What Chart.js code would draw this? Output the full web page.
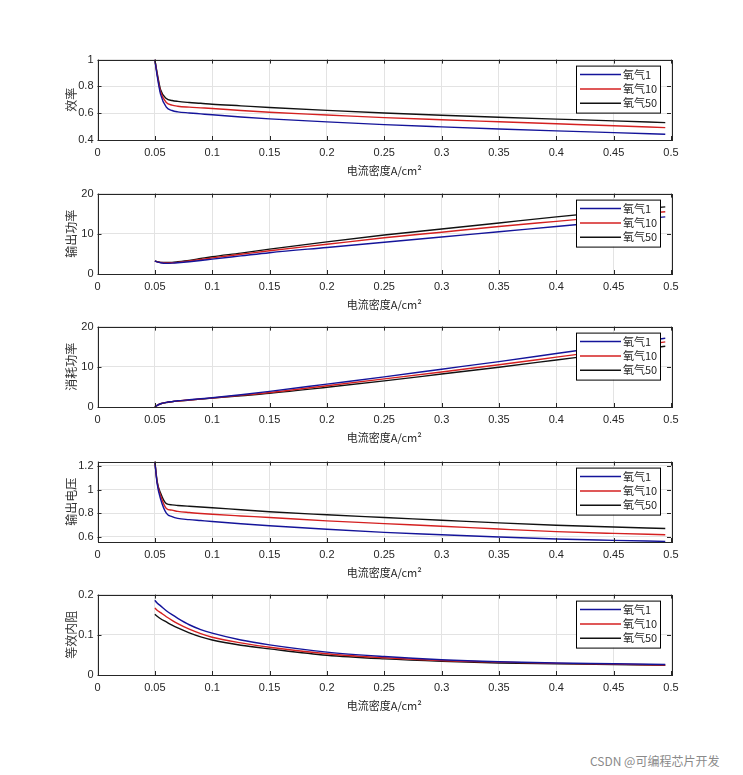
<!DOCTYPE html>
<html><head><meta charset="utf-8">
<script src="https://cdn.jsdelivr.net/npm/chart.js@4.4.0/dist/chart.umd.min.js"></script>
<style>
html,body{margin:0;padding:0;background:#fff;width:743px;height:775px;overflow:hidden;}
.pane{position:absolute;left:0;width:743px;height:128px;}
#foot{position:absolute;left:590px;top:752px;font:12px "Noto Sans CJK SC",sans-serif;color:#8a8a8a;}
</style></head><body>
<div class="pane" style="top:49px"><canvas id="c1"></canvas></div>
<div class="pane" style="top:183px"><canvas id="c2"></canvas></div>
<div class="pane" style="top:316px"><canvas id="c3"></canvas></div>
<div class="pane" style="top:451px"><canvas id="c4"></canvas></div>
<div class="pane" style="top:584px"><canvas id="c5"></canvas></div>
<div id="foot">CSDN @可编程芯片开发</div>
<script>
// x values: current density A/cm^2
const xVals = [0.05,0.052,0.055,0.06,0.065,0.07,0.08,0.09,0.1,0.125,0.15,0.2,0.25,0.3,0.35,0.4,0.45,0.495];
const seriesNames = ['氧气1','氧气10','氧气50'];
const xTitle = '电流密度A/cm²';

// Panel 1: 效率
const eff1  = [1.0,0.88,0.74,0.645,0.62,0.61,0.602,0.595,0.588,0.572,0.558,0.535,0.515,0.498,0.482,0.468,0.455,0.443];
const eff10 = [1.0,0.89,0.76,0.68,0.66,0.652,0.645,0.64,0.635,0.62,0.607,0.587,0.567,0.551,0.536,0.521,0.506,0.492];
const eff50 = [1.0,0.90,0.775,0.71,0.695,0.688,0.68,0.674,0.667,0.655,0.643,0.621,0.601,0.585,0.57,0.556,0.543,0.53];

// Panel 2: 输出功率
const pout1  = [3.2,3.0,2.8,2.65,2.7,2.8,3.05,3.35,3.7,4.5,5.3,6.6,7.9,9.2,10.5,11.8,13.1,14.2];
const pout10 = [3.2,3.0,2.85,2.75,2.8,2.9,3.25,3.6,4.0,4.9,5.8,7.4,9.0,10.4,11.8,13.1,14.4,15.5];
const pout50 = [3.25,3.05,2.9,2.85,2.9,3.05,3.4,3.85,4.3,5.2,6.2,8.0,9.7,11.2,12.7,14.2,15.6,16.7];

// Panel 3: 消耗功率
const pcon1  = [0,0.4,0.8,1.15,1.35,1.55,1.8,2.05,2.3,3.05,3.9,5.7,7.5,9.4,11.3,13.3,15.3,17.1];
const pcon10 = [0,0.4,0.8,1.15,1.35,1.5,1.75,2.0,2.25,2.9,3.6,5.3,7.0,8.7,10.5,12.4,14.3,16.2];
const pcon50 = [0,0.4,0.8,1.1,1.3,1.45,1.7,1.95,2.2,2.8,3.4,4.9,6.5,8.2,9.9,11.7,13.5,15.1];

// Panel 4: 输出电压
const volt1  = [1.237,1.05,0.92,0.8,0.77,0.755,0.745,0.737,0.729,0.71,0.693,0.663,0.637,0.617,0.597,0.58,0.569,0.56];
const volt10 = [1.237,1.06,0.95,0.84,0.825,0.815,0.805,0.797,0.79,0.776,0.763,0.734,0.711,0.689,0.665,0.643,0.628,0.617];
const volt50 = [1.237,1.07,0.97,0.88,0.87,0.865,0.858,0.852,0.846,0.828,0.811,0.786,0.763,0.74,0.717,0.697,0.682,0.669];

// Panel 5: 等效内阻
const res1  = [0.186,0.179,0.172,0.160,0.150,0.141,0.125,0.113,0.104,0.087,0.075,0.057,0.046,0.038,0.033,0.030,0.028,0.026];
const res10 = [0.167,0.161,0.155,0.145,0.136,0.128,0.114,0.103,0.094,0.080,0.069,0.053,0.043,0.036,0.032,0.029,0.027,0.025];
const res50 = [0.151,0.146,0.140,0.132,0.124,0.117,0.105,0.095,0.087,0.074,0.065,0.049,0.040,0.034,0.030,0.028,0.026,0.024];

const xTicks = [0,0.05,0.1,0.15,0.2,0.25,0.3,0.35,0.4,0.45,0.5];
const yTicks1 = [0.4,0.6,0.8,1];
const yTicks2 = [0,10,20];
const yTicks3 = [0,10,20];
const yTicks4 = [0.6,0.8,1,1.2];
const yTicks5 = [0,0.1,0.2];

const colors = ['#14149a','#d42020','#111111'];
const tickFont = {family:'"Liberation Sans", Arial, sans-serif', size:11};
const cjk = '"Noto Sans CJK SC", sans-serif';

const framePlugin = {
  id:'frame',
  afterDatasetsDraw(chart){
    const {ctx, chartArea:a, scales} = chart;
    ctx.save();
    ctx.strokeStyle = '#262626'; ctx.lineWidth = 1;
    // inward ticks
    ctx.beginPath();
    scales.x.ticks.forEach(t=>{
      const px = Math.round(scales.x.getPixelForValue(t.value))+0.5;
      ctx.moveTo(px,a.bottom); ctx.lineTo(px,a.bottom-4);
      ctx.moveTo(px,a.top); ctx.lineTo(px,a.top+4);
    });
    scales.y.ticks.forEach(t=>{
      const py = Math.round(scales.y.getPixelForValue(t.value))+0.5;
      ctx.moveTo(a.left,py); ctx.lineTo(a.left+4,py);
      ctx.moveTo(a.right,py); ctx.lineTo(a.right-4,py);
    });
    ctx.stroke();
    ctx.strokeRect(Math.round(a.left)+0.5, Math.round(a.top)+0.5, Math.round(a.right-a.left), Math.round(a.bottom-a.top));
    // legend box inside axes, top-right
    const w = 84, h = 47, x0 = a.right - 11 - w, y0 = a.top + 6;
    ctx.fillStyle = '#fff';
    ctx.fillRect(x0, y0, w, h);
    ctx.strokeStyle = '#000';
    ctx.strokeRect(x0+0.5, y0+0.5, w, h);
    ctx.font = '11px ' + cjk;
    ctx.textBaseline = 'middle';
    chart.data.datasets.forEach((ds,i)=>{
      const yy = y0 + 9 + i*14.3;
      ctx.strokeStyle = ds.borderColor; ctx.lineWidth = 1.5;
      ctx.beginPath(); ctx.moveTo(x0+4, yy); ctx.lineTo(x0+45, yy); ctx.stroke();
      ctx.fillStyle = '#262626';
      ctx.fillText(ds.label, x0+47, yy);
    });
    ctx.restore();
  }
};

function fmt(v){ return String(Number(v.toFixed(3))); }

function makeChart(id, yTitle, series, ymin, ymax, yTicks){
  new Chart(document.getElementById(id), {
    type:'line',
    data:{
      datasets: series.map((s,i)=>({
        label: seriesNames[i],
        data: xVals.map((x,k)=>({x:x, y:s[k]})),
        borderColor: colors[i],
        borderWidth: 1.4,
        pointRadius: 0,
        fill:false,
        cubicInterpolationMode:'monotone'
      }))
    },
    options:{
      responsive:true, maintainAspectRatio:false, animation:false,
      layout:{padding:{top:10, right:72, left:64, bottom:0}},
      plugins:{legend:{display:false}, tooltip:{enabled:false}},
      scales:{
        x:{
          type:'linear', min:0, max:0.5,
          afterBuildTicks(sc){ sc.ticks = xTicks.map(v=>({value:v})); },
          afterFit(sc){ sc.height = 37; },
          grid:{color:'#e3e3e3', drawTicks:false},
          border:{display:false},
          ticks:{color:'#262626', font:tickFont, padding:6, maxRotation:0, autoSkip:false, callback:v=>fmt(v)},
          title:{display:true, text:xTitle, color:'#262626', font:{family:cjk, size:11}, padding:{top:0,bottom:0}}
        },
        y:{
          type:'linear', min:ymin, max:ymax,
          afterBuildTicks(sc){ sc.ticks = yTicks.map(v=>({value:v})); },
          afterFit(sc){ sc.width = 33.5; },
          grid:{color:'#e3e3e3', drawTicks:false},
          border:{display:false},
          ticks:{color:'#262626', font:tickFont, padding:4, autoSkip:false, callback:v=>fmt(v)},
          title:{display:true, text:yTitle, color:'#333', font:{family:cjk, size:12}, padding:{top:0,bottom:0}}
        }
      }
    },
    plugins:[framePlugin]
  });
}

makeChart('c1','效率',[eff1,eff10,eff50],0.4,1,yTicks1);
makeChart('c2','输出功率',[pout1,pout10,pout50],0,20,yTicks2);
makeChart('c3','消耗功率',[pcon1,pcon10,pcon50],0,20,yTicks3);
makeChart('c4','输出电压',[volt1,volt10,volt50],0.555,1.237,yTicks4);
makeChart('c5','等效内阻',[res1,res10,res50],0,0.2,yTicks5);
</script>
</body></html>
